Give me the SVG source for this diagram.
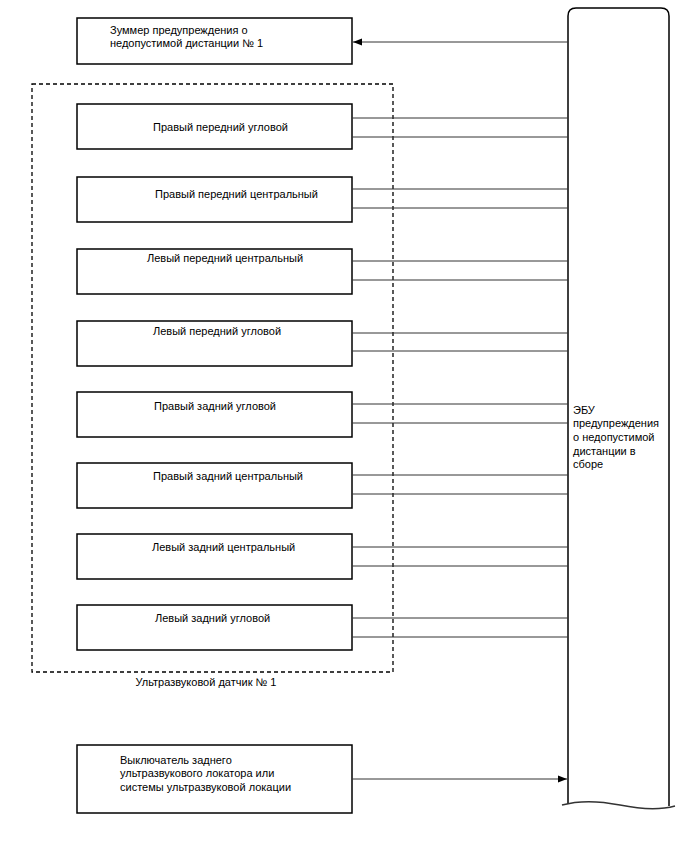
<svg xmlns="http://www.w3.org/2000/svg" width="688" height="852" viewBox="0 0 688 852">
<style>
.box{fill:#fff;stroke:#000;stroke-width:1.5}
.ln{stroke:#333;stroke-width:1;fill:none}
.t{font-family:"Liberation Sans",Arial,sans-serif;font-size:11px;fill:#000}
</style>
<defs>
<marker id="ah" markerWidth="10" markerHeight="8" refX="9" refY="4" orient="auto" markerUnits="userSpaceOnUse">
<path d="M0,0.5 L9,4 L0,7.5 Z" fill="#000"/>
</marker>
</defs>
<rect width="688" height="852" fill="#fff"/>
<g id="ecu">
<path class="box" d="M568,804 L568,16 Q568,8 576,8 L661,8 Q669,8 669,16 L669,806" fill="#fff"/>
<path d="M562,805 C580,800 600,801 620,805 C640,809 660,810 675,806" fill="none" stroke="#333" stroke-width="1.5"/>
<text class="t" x="573" y="414">ЭБУ</text>
<text class="t" x="573" y="427">предупреждения</text>
<text class="t" x="573" y="441">о недопустимой</text>
<text class="t" x="573" y="455">дистанции в</text>
<text class="t" x="573" y="468">сборе</text>
</g>
<g id="buzzer">
<rect class="box" x="77" y="18" width="275" height="46"/>
<text class="t" x="110" y="34">Зуммер предупреждения о</text>
<text class="t" x="110" y="47">недопустимой дистанции № 1</text>
</g>
<g id="sensor-group">
<rect x="32" y="84" width="361" height="588" fill="none" stroke="#000" stroke-width="1.3" stroke-dasharray="4,3"/>
<text class="t" x="206" y="686" text-anchor="middle">Ультразвуковой датчик № 1</text>
</g>
<g id="s1"><rect class="box" x="77" y="104" width="275" height="45"/><text class="t" x="153" y="131">Правый передний угловой</text></g>
<g id="s2"><rect class="box" x="77" y="177" width="275" height="45"/><text class="t" x="155" y="198">Правый передний центральный</text></g>
<g id="s3"><rect class="box" x="77" y="249" width="275" height="45"/><text class="t" x="147" y="262">Левый передний центральный</text></g>
<g id="s4"><rect class="box" x="77" y="321" width="275" height="45"/><text class="t" x="153" y="335">Левый передний угловой</text></g>
<g id="s5"><rect class="box" x="77" y="392" width="275" height="45"/><text class="t" x="154" y="410">Правый задний угловой</text></g>
<g id="s6"><rect class="box" x="77" y="463" width="275" height="45"/><text class="t" x="153" y="480">Правый задний центральный</text></g>
<g id="s7"><rect class="box" x="77" y="534" width="275" height="45"/><text class="t" x="152" y="551">Левый задний центральный</text></g>
<g id="s8"><rect class="box" x="77" y="605" width="275" height="45"/><text class="t" x="155" y="622">Левый задний угловой</text></g>
<g id="switch">
<rect class="box" x="77" y="745" width="275" height="68"/>
<text class="t" x="120" y="764">Выключатель заднего</text>
<text class="t" x="120" y="777">ультразвукового локатора или</text>
<text class="t" x="120" y="791">системы ультразвуковой локации</text>
</g>
<g id="connectors">
<line class="ln" x1="568" y1="42" x2="353" y2="42" marker-end="url(#ah)"/>
<line class="ln" x1="352" y1="779" x2="567" y2="779" marker-end="url(#ah)"/>
<line class="ln" x1="352" y1="118" x2="568" y2="118"/><line class="ln" x1="352" y1="137" x2="568" y2="137"/>
<line class="ln" x1="352" y1="189" x2="568" y2="189"/><line class="ln" x1="352" y1="208" x2="568" y2="208"/>
<line class="ln" x1="352" y1="261" x2="568" y2="261"/><line class="ln" x1="352" y1="280" x2="568" y2="280"/>
<line class="ln" x1="352" y1="333" x2="568" y2="333"/><line class="ln" x1="352" y1="351" x2="568" y2="351"/>
<line class="ln" x1="352" y1="404" x2="568" y2="404"/><line class="ln" x1="352" y1="423" x2="568" y2="423"/>
<line class="ln" x1="352" y1="475" x2="568" y2="475"/><line class="ln" x1="352" y1="494" x2="568" y2="494"/>
<line class="ln" x1="352" y1="547" x2="568" y2="547"/><line class="ln" x1="352" y1="566" x2="568" y2="566"/>
<line class="ln" x1="352" y1="618" x2="568" y2="618"/><line class="ln" x1="352" y1="637" x2="568" y2="637"/>
</g>
</svg>
